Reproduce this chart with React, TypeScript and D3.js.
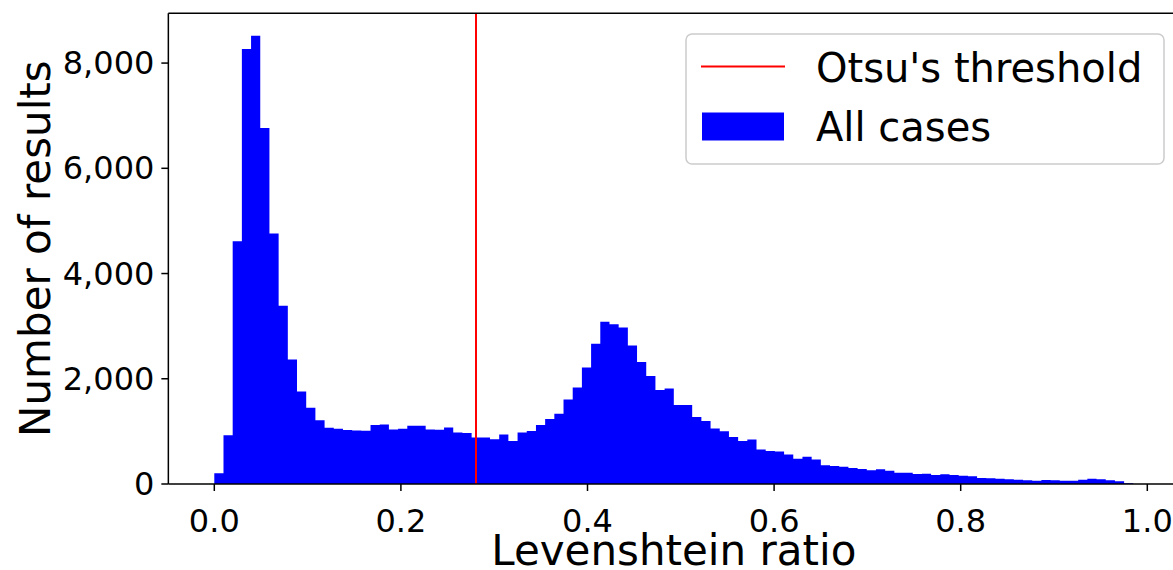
import React from "react";
import * as d3 from "d3";

// Histogram of Levenshtein ratios: 100 bins from 0 to 0.985
const binStart = 0;
const binWidth = 0.00985;
const counts: number[] = [
  203, 925, 4614, 8266, 8520, 6767, 4760, 3386, 2367, 1760,
  1450, 1210, 1070, 1051, 1025, 1019, 1013, 1120, 1133, 1038,
  1051, 1108, 1108, 1038, 1032, 1076, 981, 968, 886, 886,
  850, 943, 817, 981, 1006, 1120, 1234, 1335, 1608, 1836,
  2216, 2665, 3083, 3038, 2975, 2633, 2317, 2051, 1785, 1817,
  1500, 1500, 1275, 1196, 1057, 1003, 892, 817, 848, 658,
  627, 620, 563, 481, 519, 468, 354, 342, 329, 304,
  285, 259, 278, 253, 215, 215, 190, 193, 171, 184,
  171, 158, 146, 114, 108, 101, 89, 82, 70, 63,
  76, 70, 63, 63, 82, 101, 89, 70, 51, 13,
];
const otsuThreshold = 0.2805;
const xTicks: number[] = [0, 0.2, 0.4, 0.6, 0.8, 1.0];
const yTicks: number[] = [0, 2000, 4000, 6000, 8000];
const xLabel = "Levenshtein ratio";
const yLabel = "Number of results";
const legendLabels: string[] = ["Otsu's threshold", "All cases"];

const W = 1173;
const H = 570;
const FONT = "'DejaVu Sans', sans-serif";

export default function App() {
  const x = d3.scaleLinear().domain([0, 1]).range([214.3, 1147.3]);
  const dataMax = binStart + binWidth * counts.length;
  const xMin = binStart - 0.05 * (dataMax - binStart);
  const xMax = dataMax + 0.05 * (dataMax - binStart);
  const yMax = (d3.max(counts) as number) * 1.05;
  const y = d3.scaleLinear().domain([0, yMax]).range([484, 13.3]);

  const left = x(xMin);
  const right = x(xMax);
  const top = y(yMax);
  const bottom = y(0);

  const edges = counts.map((c, i) => ({ x0: binStart + i * binWidth, c }));
  edges.push({ x0: binStart + counts.length * binWidth, c: 0 });
  const area = d3
    .area<{ x0: number; c: number }>()
    .x((d) => x(d.x0))
    .y0(y(0))
    .y1((d) => y(d.c))
    .curve(d3.curveStepAfter);

  const fmt = d3.format(",");

  return (
    <svg
      width={W}
      height={H}
      style={{ position: "absolute", left: 0, top: 0, background: "#fff" }}
      fontFamily={FONT}
    >
      <defs>
        <clipPath id="plot">
          <rect x={left} y={top} width={right - left} height={bottom - top} />
        </clipPath>
      </defs>
      <rect x={0} y={0} width={W} height={H} fill="#fff" />
      <g clipPath="url(#plot)">
        <path d={area(edges) || ""} fill="#0000ff" stroke="none" />
        <line
          x1={x(otsuThreshold)}
          x2={x(otsuThreshold)}
          y1={top}
          y2={bottom}
          stroke="#ff0000"
          strokeWidth={2}
        />
      </g>
      {/* spines */}
      <line x1={left} x2={left} y1={top} y2={bottom} stroke="#000" strokeWidth={1.5} />
      <line x1={left} x2={right} y1={bottom} y2={bottom} stroke="#000" strokeWidth={1.5} />
      <line x1={left} x2={right} y1={top} y2={top} stroke="#000" strokeWidth={1.5} />
      <line x1={right} x2={right} y1={top} y2={bottom} stroke="#000" strokeWidth={1.5} />
      {/* y ticks */}
      {yTicks.map((t) => (
        <g key={"y" + t}>
          <line x1={left - 7} x2={left} y1={y(t)} y2={y(t)} stroke="#000" strokeWidth={1.5} />
          <text
            x={left - 14}
            y={y(t)}
            textAnchor="end"
            dominantBaseline="central"
            fontSize={32}
            fill="#000"
          >
            {fmt(t)}
          </text>
        </g>
      ))}
      {/* x ticks */}
      {xTicks.map((t) => (
        <g key={"x" + t}>
          <line x1={x(t)} x2={x(t)} y1={bottom} y2={bottom + 7} stroke="#000" strokeWidth={1.5} />
          <text x={x(t)} y={532} textAnchor="middle" fontSize={32} fill="#000">
            {t.toFixed(1)}
          </text>
        </g>
      ))}
      <text x={(left + right) / 2} y={565} textAnchor="middle" fontSize={42} fill="#000">
        {xLabel}
      </text>
      <text
        transform={`translate(50, ${(top + bottom) / 2}) rotate(-90)`}
        textAnchor="middle"
        fontSize={42}
        fill="#000"
      >
        {yLabel}
      </text>
      {/* legend */}
      <g>
        <rect
          x={686}
          y={34}
          width={478}
          height={130}
          rx={6}
          fill="#fff"
          fillOpacity={0.8}
          stroke="#cccccc"
          strokeWidth={1.5}
        />
        <line x1={701} x2={785} y1={66.5} y2={66.5} stroke="#ff0000" strokeWidth={2} />
        <text x={816} y={81.5} fontSize={40} fill="#000">
          {legendLabels[0]}
        </text>
        <rect x={702} y={112.5} width={82} height={28} fill="#0000ff" />
        <text x={816} y={141} fontSize={40} fill="#000">
          {legendLabels[1]}
        </text>
      </g>
    </svg>
  );
}
